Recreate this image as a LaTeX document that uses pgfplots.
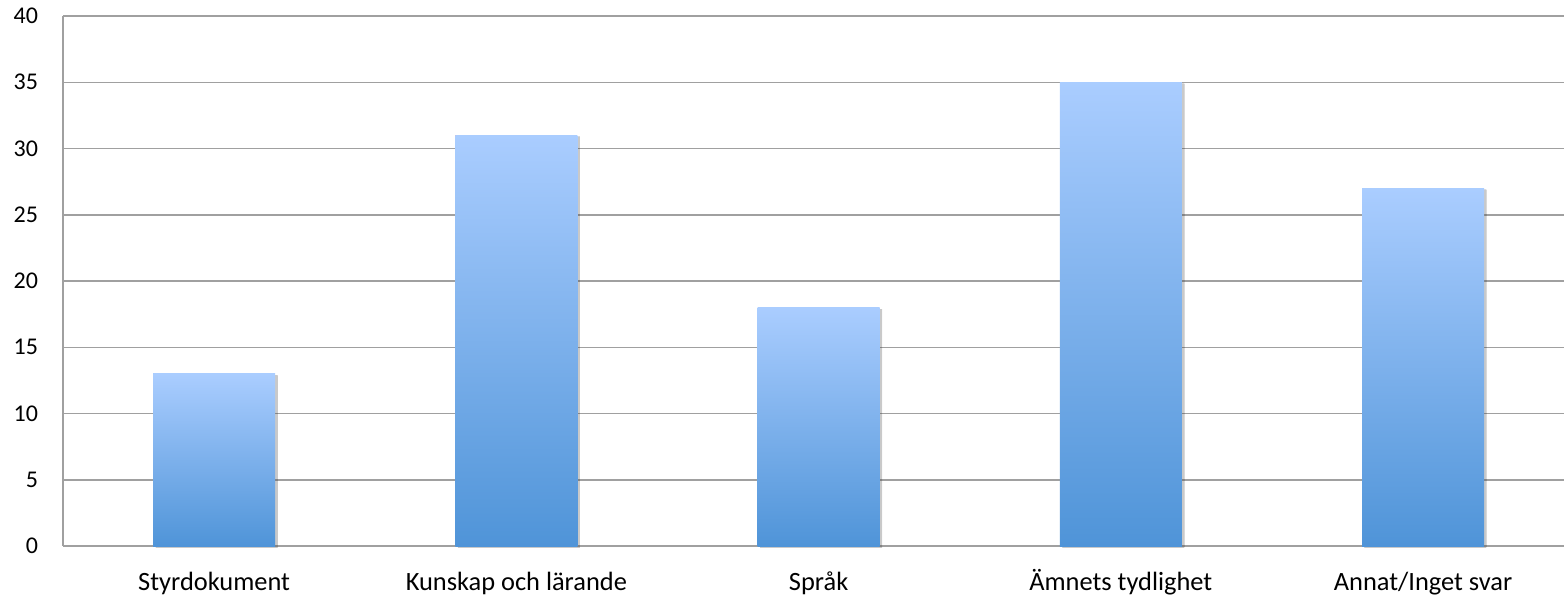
\documentclass[border=0pt]{standalone}
\usepackage{fontspec}
\setmainfont{Carlito}
\usepackage{pgfplots}
\pgfplotsset{compat=1.18}
\usetikzlibrary{shadows}
\definecolor{gridgray}{RGB}{160,160,160}
\definecolor{bartop}{RGB}{170,205,255}
\definecolor{barbot}{RGB}{79,148,216}
\begin{document}
\begin{tikzpicture}
\begin{axis}[
  scale only axis,
  width=755.6pt, height=265pt,
  xmin=-0.5, xmax=4.5,
  ymin=0, ymax=40,
  ytick={0,5,...,40},
  xtick={0,1,2,3,4},
  xticklabels={Styrdokument,Kunskap och lärande,Språk,Ämnets tydlighet,Annat/Inget svar},
  axis x line=bottom, axis y line=left,
  axis line style={gridgray, line width=0.75pt, -},
  ymajorgrids, grid style={gridgray, line width=0.75pt},
  major tick length=0pt,
  tick label style={text=black},
  yticklabel style={font=\fontsize{12}{14}\selectfont, anchor=east, xshift=-9pt},
  xticklabel style={font=\fontsize{13.2}{15}\selectfont, anchor=base, yshift=-22pt},
  /pgf/number format/assume math mode=true,
  ybar, bar width=61pt, bar shift=0pt,
  every axis plot/.append style={draw=none, top color=bartop, bottom color=barbot,
    drop shadow={shadow xshift=1.2pt, shadow yshift=-0.8pt, opacity=0.15,
      top color=black, bottom color=black}},
  clip=false,
]
\addplot coordinates {(0,13)};
\addplot coordinates {(1,31)};
\addplot coordinates {(2,18)};
\addplot coordinates {(3,35)};
\addplot coordinates {(4,27)};
\coordinate (bl) at (rel axis cs:0,0);
\end{axis}
\pgfresetboundingbox
\path ([shift={(-31.5pt,-24.5pt)}]bl) rectangle ([shift={(750.5pt,273pt)}]bl);
\end{tikzpicture}
\end{document}
